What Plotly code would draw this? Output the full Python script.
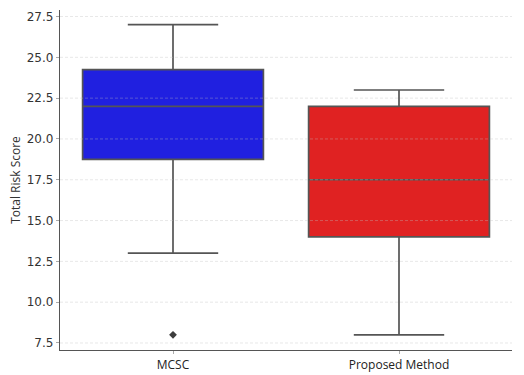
import plotly.graph_objects as go

categories = ["MCSC", "Proposed Method"]
q1 = [18.75, 14.0]
median = [22.0, 17.5]
q3 = [24.25, 22.0]
lower = [13.0, 8.0]
upper = [27.0, 23.0]
colors = ["#2020e0", "#e02222"]
outlier_cat = ["MCSC"]
outlier_val = [8.0]
yticks = [7.5, 10.0, 12.5, 15.0, 17.5, 20.0, 22.5, 25.0, 27.5]

line_col = "#555555"
fig = go.Figure()
for i, c in enumerate(categories):
    fig.add_trace(go.Box(
        x=[c], q1=[q1[i]], median=[median[i]], q3=[q3[i]],
        lowerfence=[lower[i]], upperfence=[upper[i]],
        fillcolor=colors[i], line=dict(color=line_col, width=1.7),
        width=0.8, whiskerwidth=0.5, boxpoints=False, showlegend=False,
        hoverinfo="skip",
    ))
fig.add_trace(go.Scatter(
    x=outlier_cat, y=outlier_val, mode="markers",
    marker=dict(symbol="diamond", size=6, color="#3d3d3d"),
    showlegend=False, hoverinfo="skip",
))

# dashed grid drawn above the boxes, as in the reference
for v in yticks:
    fig.add_shape(type="line", xref="paper", yref="y", x0=0, x1=1, y0=v, y1=v,
                  line=dict(color="rgba(190,190,190,0.45)", width=0.8, dash="3px,2px"),
                  layer="above")

fig.update_layout(
    width=524, height=375,
    margin=dict(l=60, r=12, t=10, b=25),
    plot_bgcolor="white", paper_bgcolor="white",
    font=dict(family="DejaVu Sans", size=12, color="#333333"),
)
fig.update_xaxes(
    type="category", range=[-0.5, 1.5], automargin=False,
    showline=True, linecolor="#555555", linewidth=1.3,
    ticks="outside", ticklen=3, tickcolor="#aaaaaa",
    tickfont=dict(family="Open Sans", size=12, color="#222222"),
    showgrid=False, zeroline=False,
)
fig.update_yaxes(
    range=[7.07, 27.9], tickvals=yticks, automargin=False,
    ticktext=[f"{v:.1f}" for v in yticks],
    tickfont=dict(family="DejaVu Sans", size=12, color="#333333"),
    showline=True, linecolor="#555555", linewidth=1.3,
    ticks="outside", ticklen=3, tickcolor="#aaaaaa",
    showgrid=False, zeroline=False,
    title=dict(text="Total Risk Score", font=dict(family="Open Sans", size=12, color="#333333"), standoff=3),
)
fig.write_html("out.html", config={"displayModeBar": False},
               post_script="document.body.style.margin='0';document.body.style.overflow='hidden';")
